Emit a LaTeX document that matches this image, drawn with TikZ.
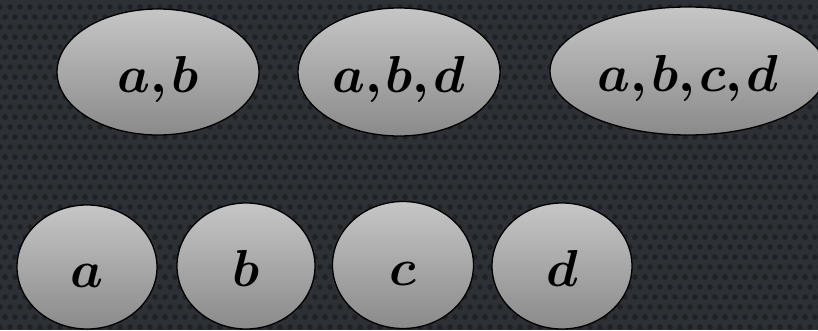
\documentclass[tikz,border=0pt]{standalone}
\DeclareFontShape{OML}{cmm}{b}{it}{<->cmmib10}{\skewchar\font'177}
\DeclareFontShape{OML}{cmm}{m}{it}{<->cmmi10}{\skewchar\font'177}
\usepackage{bm}
\usetikzlibrary{shapes.geometric}
\definecolor{bgc}{RGB}{45,48,53}
\definecolor{dotc}{RGB}{31,33,37}
\definecolor{topg}{RGB}{198,198,198}
\definecolor{botg}{RGB}{138,138,138}
\tikzset{
  setnode/.style={ellipse, draw=black, line width=1.3pt, top color=topg, bottom color=botg,
    inner sep=0pt, text height=40pt, text depth=0pt, font=\fontsize{52}{62}\selectfont},
  bgdot/.style={fill=dotc}
}
\begin{document}
\begin{tikzpicture}[x=1pt,y=1pt]
\useasboundingbox (0,0) rectangle (818,330);
\clip (0,0) rectangle (818,330);
\fill[bgc] (0,0) rectangle (818,330);
\foreach \j in {0,...,34} {
  \foreach \i in {0,...,82} {
    \fill[bgdot] ({\i*10+mod(\j,2)*5},{\j*10+3}) circle (2.8);
  }
}
% top row
\node[setnode, minimum width=202pt, minimum height=126pt] (ab)   at (158,258) {$\bm{a,b}$};
\node[setnode, minimum width=202pt, minimum height=128pt] (abd)  at (399,258) {$\bm{a,b,d}$};
\node[setnode, minimum width=276pt, minimum height=128pt] (abcd) at (688,259) {$\bm{a,b,c,d}$};
% bottom row
\node[setnode, minimum width=140pt, minimum height=124pt] (a) at (87,63)  {$\bm{a}$};
\node[setnode, minimum width=138pt, minimum height=126pt] (b) at (246,64) {$\bm{b}$};
\node[setnode, minimum width=141pt, minimum height=127pt] (c) at (403,65) {$\bm{c}$};
\node[setnode, minimum width=140pt, minimum height=126pt] (d) at (562,64) {$\bm{d}$};
\end{tikzpicture}
\end{document}
